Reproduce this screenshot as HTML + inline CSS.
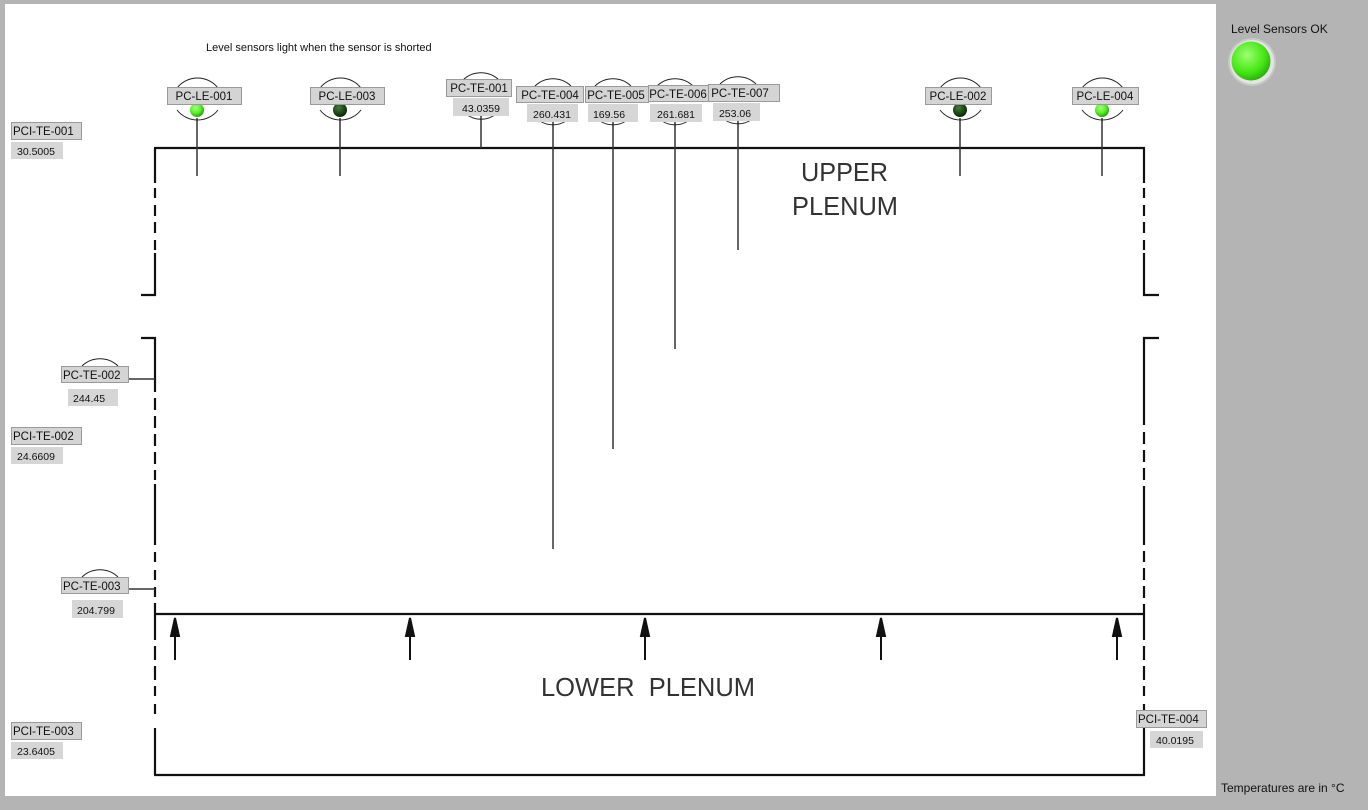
<!DOCTYPE html>
<html><head><meta charset="utf-8"><style>
html,body{margin:0;padding:0;background:#b4b4b4;}
svg{display:block;}
text{font-family:"Liberation Sans",sans-serif;}
</style></head><body>
<svg width="1368" height="810" viewBox="0 0 1368 810" xmlns="http://www.w3.org/2000/svg">
<defs>
<radialGradient id="gl" cx="0.4" cy="0.35" r="0.65"><stop offset="0" stop-color="#a8ff80"/><stop offset="0.6" stop-color="#55ee22"/><stop offset="1" stop-color="#2aa010"/></radialGradient>
<radialGradient id="dk" cx="0.4" cy="0.35" r="0.65"><stop offset="0" stop-color="#4a7a40"/><stop offset="0.6" stop-color="#1d4a14"/><stop offset="1" stop-color="#0c2608"/></radialGradient>
<radialGradient id="big" cx="0.4" cy="0.35" r="0.65"><stop offset="0" stop-color="#9cff70"/><stop offset="0.7" stop-color="#44e614"/><stop offset="1" stop-color="#2cb40c"/></radialGradient>
</defs>
<rect x="0" y="0" width="1368" height="810" fill="#b4b4b4"/>
<rect x="5" y="4" width="1211" height="792" fill="#fff"/>

<text x="206" y="51" font-size="11" fill="#111">Level sensors light when the sensor is shorted</text>

<g stroke="#111" stroke-width="2.2" fill="none">
<line x1="154" y1="148" x2="1145" y2="148"/>
<line x1="154" y1="614" x2="1145" y2="614"/>
<line x1="154" y1="775" x2="1145" y2="775"/>
<path d="M155 148 V183 M155 188 V198 M155 205 V216 M155 222 V233 M155 240 V250 M155 253 V295 H141"/>
<path d="M141 338 H155 V392 M155 398 V410 M155 416 V428 M155 434 V446 M155 452 V464 M155 470 V480 M155 484 V545 M155 552 V562 M155 570 V580 M155 587 V597 M155 603 V640 M155 646 V660 M155 666 V680 M155 686 V696 M155 704 V714 M155 728 V775"/>
<path d="M1144 148 V183 M1144 188 V198 M1144 205 V216 M1144 222 V233 M1144 240 V250 M1144 253 V295 H1159"/>
<path d="M1159 338 H1144 V425 M1144 432 V444 M1144 450 V462 M1144 468 V480 M1144 486 V545 M1144 551 V562 M1144 568 V580 M1144 586 V598 M1144 604 V640 M1144 646 V660 M1144 666 V680 M1144 686 V696 M1144 704 V714 M1144 728 V775"/>
</g>

<g stroke="#111" stroke-width="2" fill="#111">
<line x1="175" y1="660" x2="175" y2="628"/><path d="M171 636 L175 618 L179 636 Z"/>
<line x1="410" y1="660" x2="410" y2="628"/><path d="M406 636 L410 618 L414 636 Z"/>
<line x1="645" y1="660" x2="645" y2="628"/><path d="M641 636 L645 618 L649 636 Z"/>
<line x1="881" y1="660" x2="881" y2="628"/><path d="M877 636 L881 618 L885 636 Z"/>
<line x1="1117" y1="660" x2="1117" y2="628"/><path d="M1113 636 L1117 618 L1121 636 Z"/>
</g>

<text x="801" y="181" font-size="26" fill="#333" textLength="87" lengthAdjust="spacingAndGlyphs">UPPER</text>
<text x="792" y="215" font-size="26" fill="#333" textLength="106" lengthAdjust="spacingAndGlyphs">PLENUM</text>
<text x="541" y="696" font-size="26" fill="#333" textLength="214" lengthAdjust="spacingAndGlyphs">LOWER&#160;&#160;PLENUM</text>

<g stroke="#333" stroke-width="1.5">
<line x1="197" y1="118" x2="197" y2="176"/>
<line x1="340" y1="118" x2="340" y2="176"/>
<line x1="481" y1="116" x2="481" y2="148"/>
<line x1="553" y1="122" x2="553" y2="549"/>
<line x1="613" y1="122" x2="613" y2="449"/>
<line x1="675" y1="122" x2="675" y2="349"/>
<line x1="738" y1="121" x2="738" y2="250"/>
<line x1="960" y1="118" x2="960" y2="176"/>
<line x1="1102" y1="118" x2="1102" y2="176"/>
<line x1="128" y1="379" x2="155" y2="379"/>
<line x1="128" y1="589" x2="155" y2="589"/>
</g>

<g stroke="#222" stroke-width="1" fill="none">
<path d="M177 88 A26 26 0 0 1 218 88"/><path d="M177 110 A26 26 0 0 0 218 110"/>
<path d="M320 88 A26 26 0 0 1 361 88"/><path d="M320 110 A26 26 0 0 0 361 110"/>
<path d="M940 88 A26 26 0 0 1 981 88"/><path d="M940 110 A26 26 0 0 0 981 110"/>
<path d="M1082 88 A26 26 0 0 1 1123 88"/><path d="M1082 110 A26 26 0 0 0 1123 110"/>
<path d="M463 80 A26 26 0 0 1 499 80"/><path d="M466 114 A24 24 0 0 0 496 114"/>
<path d="M535 86 A26 26 0 0 1 571 86"/><path d="M540 121 A24 24 0 0 0 566 121"/>
<path d="M595 86 A26 26 0 0 1 631 86"/><path d="M600 121 A24 24 0 0 0 626 121"/>
<path d="M657 86 A26 26 0 0 1 693 86"/><path d="M662 121 A24 24 0 0 0 688 121"/>
<path d="M720 84 A26 26 0 0 1 756 84"/><path d="M725 120 A24 24 0 0 0 751 120"/>
<path d="M82 366 A26 26 0 0 1 118 366"/>
<path d="M82 577 A26 26 0 0 1 118 577"/>
</g>

<circle cx="197" cy="110" r="7" fill="url(#gl)"/>
<circle cx="340" cy="110" r="7" fill="url(#dk)"/>
<circle cx="960" cy="110" r="7" fill="url(#dk)"/>
<circle cx="1102" cy="110" r="7" fill="url(#gl)"/>

<g font-size="11.5" fill="#111">
<g fill="#d4d4d4" stroke="#9a9a9a" stroke-width="1">
<rect x="167.5" y="87.5" width="74" height="17"/>
<rect x="310.5" y="87.5" width="74" height="17"/>
<rect x="446.5" y="79.5" width="65" height="17"/>
<rect x="516.5" y="86.5" width="67" height="16"/>
<rect x="585.5" y="86.5" width="63" height="16"/>
<rect x="648.5" y="85.5" width="60" height="16"/>
<rect x="708.5" y="84.5" width="71" height="17"/>
<rect x="925.5" y="87.5" width="66" height="17"/>
<rect x="1072.5" y="87.5" width="66" height="17"/>
<rect x="11.5" y="122.5" width="70" height="17"/>
<rect x="61.5" y="366.5" width="67" height="16"/>
<rect x="11.5" y="427.5" width="70" height="17"/>
<rect x="61.5" y="577.5" width="67" height="16"/>
<rect x="11.5" y="722.5" width="70" height="17"/>
<rect x="1136.5" y="710.5" width="70" height="17"/>
</g>
<g fill="#d6d6d6">
<rect x="453" y="98" width="56" height="18"/>
<rect x="527" y="104" width="51" height="18"/>
<rect x="588" y="104" width="50" height="18"/>
<rect x="650" y="104" width="52" height="18"/>
<rect x="713" y="103" width="47" height="18"/>
<rect x="11" y="142" width="52" height="17"/>
<rect x="68" y="389" width="50" height="17"/>
<rect x="11" y="447" width="52" height="17"/>
<rect x="72" y="600" width="51" height="18"/>
<rect x="11" y="742" width="52" height="17"/>
<rect x="1150" y="731" width="53" height="17"/>
</g>
<text x="204" y="100" text-anchor="middle">PC-LE-001</text>
<text x="347" y="100" text-anchor="middle">PC-LE-003</text>
<text x="479" y="92" text-anchor="middle">PC-TE-001</text>
<text x="550" y="99" text-anchor="middle">PC-TE-004</text>
<text x="616" y="99" text-anchor="middle">PC-TE-005</text>
<text x="678" y="98" text-anchor="middle">PC-TE-006</text>
<text x="740" y="97" text-anchor="middle">PC-TE-007</text>
<text x="958" y="100" text-anchor="middle">PC-LE-002</text>
<text x="1105" y="100" text-anchor="middle">PC-LE-004</text>
<text x="13" y="135">PCI-TE-001</text>
<text x="63" y="379">PC-TE-002</text>
<text x="13" y="440">PCI-TE-002</text>
<text x="63" y="590">PC-TE-003</text>
<text x="13" y="735">PCI-TE-003</text>
<text x="1138" y="723">PCI-TE-004</text>
<g font-size="10.5">
<text x="481" y="112" text-anchor="middle">43.0359</text>
<text x="552" y="118" text-anchor="middle">260.431</text>
<text x="609" y="118" text-anchor="middle">169.56</text>
<text x="676" y="118" text-anchor="middle">261.681</text>
<text x="735" y="117" text-anchor="middle">253.06</text>
<text x="17" y="155">30.5005</text>
<text x="73" y="402">244.45</text>
<text x="17" y="460">24.6609</text>
<text x="77" y="614">204.799</text>
<text x="17" y="755">23.6405</text>
<text x="1156" y="744">40.0195</text>
</g>
</g>

<text x="1231" y="33" font-size="12" fill="#111">Level Sensors OK</text>
<circle cx="1252" cy="62" r="24" fill="#c8c8c8"/>
<circle cx="1252" cy="62" r="22" fill="#e4e4e4"/>
<circle cx="1251" cy="61" r="19.5" fill="url(#big)"/>
<text x="1221" y="792" font-size="12" fill="#111">Temperatures are in °C</text>
</svg>
</body></html>
